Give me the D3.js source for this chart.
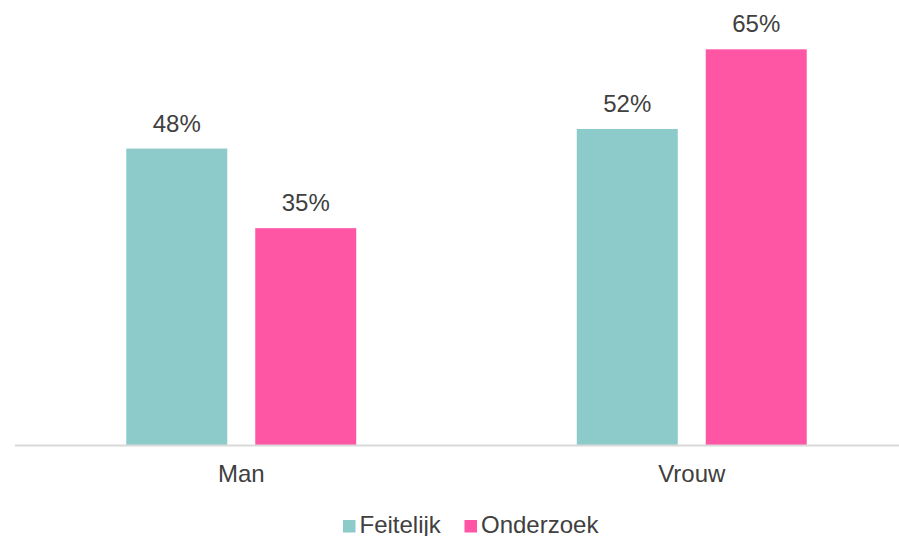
<!DOCTYPE html>
<html>
<head>
<meta charset="utf-8">
<script src="https://cdn.jsdelivr.net/npm/d3@7"></script>
<style>
  body { margin: 0; background: #fff; }
  text { font-family: "Liberation Sans", Arial, sans-serif; fill: #404040; }
</style>
</head>
<body>
<div id="canvas"></div>
<script>
"use strict"

/* Drawing config */
let svgWidth = 899;
let svgHeight = 536;
let baseY = 445;

/* Data */
let categories = ["Man", "Vrouw"];
let series = ["Feitelijk", "Onderzoek"];
let feitelijk = [48.4, 51.6];
let onderzoek = [35.4, 64.6];
let colors = ["#8ccbc9", "#ff55a5"];

let rows = categories.map(function (c, i) {
    return {category: c, values: [feitelijk[i], onderzoek[i]]};
});

let svg = d3.select("#canvas")
    .append("svg")
    .attr("width", svgWidth)
    .attr("height", svgHeight);

/* Scales */
let x0 = d3.scaleBand()
    .domain(categories)
    .range([16, 917])
    .padding(0);

let x1 = d3.scaleBand()
    .domain(series)
    .range([0, x0.bandwidth()])
    .paddingInner(0.217)
    .paddingOuter(0.855);

let yScale = d3.scaleLinear()
    .domain([0, 70])
    .range([baseY, baseY - 70 * 6.125]);

let color = d3.scaleOrdinal()
    .domain(series)
    .range(colors);

/* Bars */
let groups = svg.selectAll("g.cat")
    .data(rows)
    .join("g")
    .attr("class", "cat")
    .attr("transform", function (d) { return "translate(" + x0(d.category) + ",0)"; });

let cells = groups.selectAll("g.bar")
    .data(function (d) {
        return d.values.map(function (v, i) { return {key: series[i], value: v}; });
    })
    .join("g")
    .attr("class", "bar");

cells.append("rect")
    .attr("x", function (d) { return x1(d.key); })
    .attr("y", function (d) { return yScale(d.value); })
    .attr("width", x1.bandwidth())
    .attr("height", function (d) { return baseY - yScale(d.value); })
    .attr("fill", function (d) { return color(d.key); });

cells.append("text")
    .attr("x", function (d) { return x1(d.key) + x1.bandwidth() / 2; })
    .attr("y", function (d) { return yScale(d.value) - 17; })
    .attr("text-anchor", "middle")
    .style("font-size", "24px")
    .text(function (d) { return Math.round(d.value) + "%"; });

/* Axis line */
svg.append("line")
    .attr("x1", 15)
    .attr("x2", svgWidth)
    .attr("y1", baseY + 0.5)
    .attr("y2", baseY + 0.5)
    .attr("stroke", "#d9d9d9")
    .attr("stroke-width", 2);

/* Category labels */
svg.selectAll("text.cat-label")
    .data(categories)
    .join("text")
    .attr("class", "cat-label")
    .attr("x", function (d) { return x0(d) + x0.bandwidth() / 2; })
    .attr("y", 482)
    .attr("text-anchor", "middle")
    .style("font-size", "24px")
    .text(function (d) { return d; });

/* Legend */
let legendX = [343, 464.5];
let legend = svg.selectAll("g.legend")
    .data(series)
    .join("g")
    .attr("class", "legend")
    .attr("transform", function (d, i) { return "translate(" + legendX[i] + ",520)"; });

legend.append("rect")
    .attr("width", 12.5)
    .attr("height", 12.5)
    .attr("fill", function (d) { return color(d); });

legend.append("text")
    .attr("x", 16.5)
    .attr("y", 12.5)
    .style("font-size", "24px")
    .text(function (d) { return d; });
</script>
</body>
</html>
